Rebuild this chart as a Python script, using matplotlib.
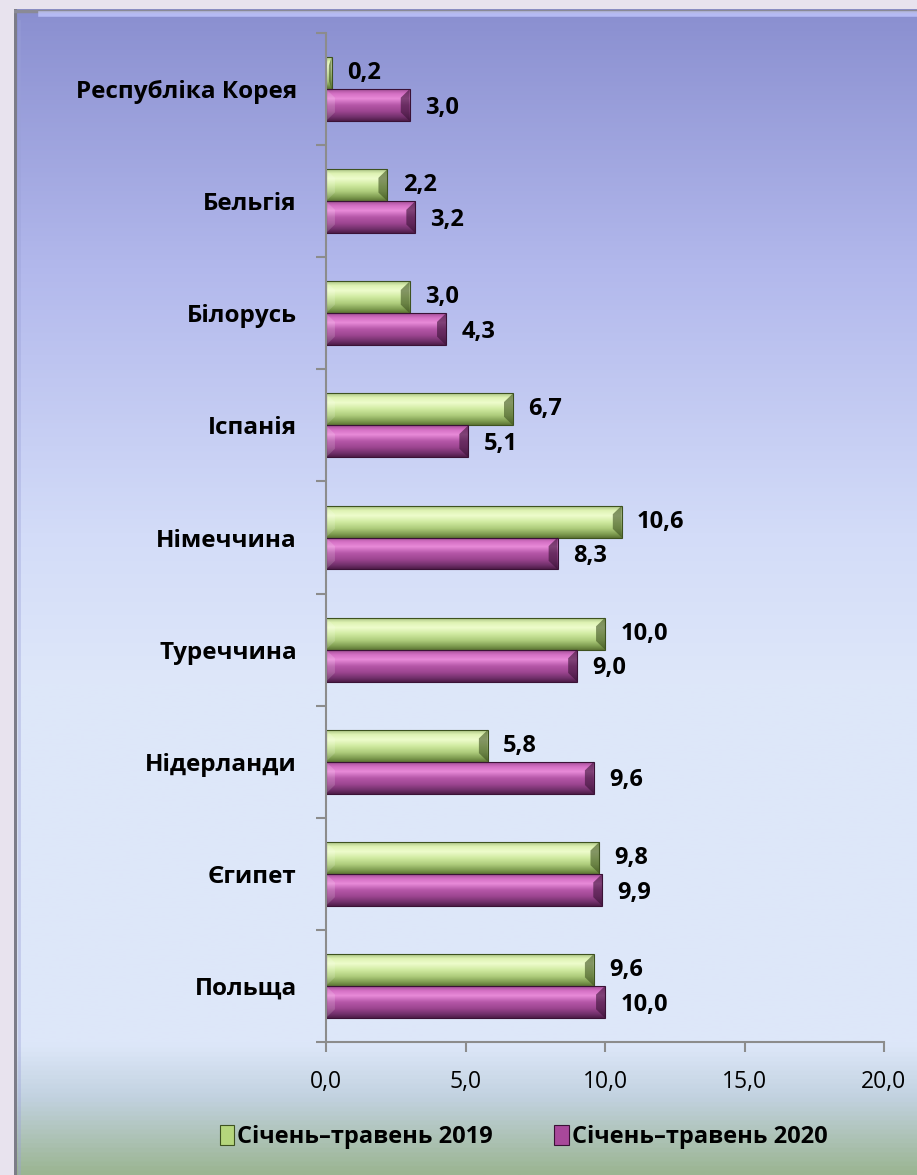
import numpy as np
import matplotlib
matplotlib.use("Agg")
import matplotlib.pyplot as plt
from matplotlib.colors import LinearSegmentedColormap
from matplotlib.patches import Polygon, Patch

plt.rcParams['font.family'] = ['Open Sans', 'DejaVu Sans']

# Дані
countries = ["Польща", "Єгипет", "Нідерланди", "Туреччина", "Німеччина",
             "Іспанія", "Білорусь", "Бельгія", "Республіка Корея"]
v2019 = [9.6, 9.8, 5.8, 10.0, 10.6, 6.7, 3.0, 2.2, 0.2]
v2020 = [10.0, 9.9, 9.6, 9.0, 8.3, 5.1, 4.3, 3.2, 3.0]
labels = ["Січень–травень 2019", "Січень–травень 2020"]
xticks = [0, 5, 10, 15, 20]

W, H = 917, 1175
fig = plt.figure(figsize=(W / 100, H / 100), dpi=100)
fig.patch.set_facecolor("#e8e3ee")

# фон з градієнтом
bg = fig.add_axes([14 / W, 0, 1 - 14 / W, 1 - 9 / H])
bg.set_axis_off()
stops = [(0.0, "#8a8fd0"), (0.22, "#b2b8ec"), (0.45, "#d3dcf8"), (0.58, "#dee7fa"),
         (0.89, "#dde7f9"), (0.935, "#c2d2e0"), (1.0, "#9bb592")]
bg_cmap = LinearSegmentedColormap.from_list("bg", stops)
grad = np.linspace(0, 1, 512).reshape(-1, 1)
bg.imshow(grad, cmap=bg_cmap, aspect="auto", extent=[0, 1, 0, 1], origin="upper")
bg.set_xlim(0, 1)
bg.set_ylim(0, 1)
# рамка
bg.plot([0.0015, 0.0015], [0, 1], color="#7c7c88", lw=3)
bg.plot([0, 1], [0.9985, 0.9985], color="#8a8a96", lw=2.5)
bg.plot([0.03, 1], [0.9955, 0.9955], color="#c4c9ff", lw=4, alpha=0.75)
bg.plot([0.006, 0.006], [0.0, 0.99], color="#9aa0d8", lw=2, alpha=0.4)

ax = fig.add_axes([326 / W, 1 - 1042 / H, (884 - 326) / W, (1042 - 33) / H])
ax.patch.set_alpha(0)

y = np.arange(len(countries))
h = 0.285
b19 = ax.barh(y + h / 2, v2019, height=h, color="#c2e08c", zorder=2)
b20 = ax.barh(y - h / 2, v2020, height=h, color="#a8489a", zorder=2)

green = LinearSegmentedColormap.from_list("g", [
    (0.0, "#5c7434"), (0.12, "#7e9c50"), (0.3, "#aecc7c"), (0.5, "#cfeaa0"),
    (0.7, "#eefccc"), (0.86, "#dff3b4"), (1.0, "#a9c283")])
purple = LinearSegmentedColormap.from_list("p", [
    (0.0, "#4e1c48"), (0.12, "#70306a"), (0.3, "#9c4590"), (0.5, "#b557a8"),
    (0.7, "#e88ad8"), (0.86, "#d36fc3"), (1.0, "#a14d96")])


def bevel(bars, cmap, dark):
    for p in bars:
        x0, y0 = p.get_x(), p.get_y()
        w, hh = p.get_width(), p.get_height()
        p.set_facecolor("none")
        p.set_edgecolor(dark)
        p.set_linewidth(0.8)
        im = ax.imshow(grad[::-1], cmap=cmap, aspect="auto",
                       extent=[x0, x0 + w, y0, y0 + hh], zorder=1.5)
        im.set_clip_path(p)
        bx = min(0.32, w / 2)
        by = hh * 0.27
        x1 = x0 + w
        ax.add_patch(Polygon([(x1 - bx, y0 + by), (x1, y0), (x1, y0 + hh), (x1 - bx, y0 + hh - by)],
                             closed=True, facecolor=dark, alpha=0.6, lw=0, zorder=1.8))
        ax.add_patch(Polygon([(x0, y0), (x0 + bx, y0 + by), (x0 + bx, y0 + hh - by), (x0, y0 + hh)],
                             closed=True, facecolor="white", alpha=0.15, lw=0, zorder=1.8))


bevel(b19, green, "#3e5220")
bevel(b20, purple, "#3a1236")

for bars, vals, dy in ((b19, v2019, 0), (b20, v2020, -2)):
    for p, v in zip(bars, vals):
        ax.annotate(f"{v:.1f}".replace(".", ","), (p.get_x() + p.get_width(), p.get_y() + p.get_height() / 2),
                    xytext=(11, dy), textcoords="offset points", va="center", ha="left",
                    fontsize=17, fontweight="bold", color="black", zorder=3)

ax.set_xlim(0, 20)
ax.set_ylim(-0.5, len(countries) - 0.5)
ax.set_xticks(xticks)
ax.set_xticklabels([f"{t:.1f}".replace(".", ",") for t in xticks], fontsize=16.5)
ax.set_yticks(y)
ax.set_yticklabels(countries, fontsize=17.5, fontweight="bold")
ax.set_yticks(np.arange(len(countries) + 1) - 0.5, minor=True)
ax.tick_params(axis="y", which="major", length=0, pad=21)
ax.tick_params(axis="y", which="minor", length=7, color="#8c8c8c", width=1.5, direction="out")
ax.tick_params(axis="x", length=7, color="#8c8c8c", width=1.5, direction="out", pad=13)
for s in ("top", "right"):
    ax.spines[s].set_visible(False)
for s in ("left", "bottom"):
    ax.spines[s].set_color("#8c8c8c")
    ax.spines[s].set_linewidth(1.5)

handles = [Patch(facecolor="#b5d67c", edgecolor="#3e5220", lw=0.8),
           Patch(facecolor="#a8489a", edgecolor="#3a1236", lw=0.8)]
leg = fig.legend(handles, labels, loc="center", bbox_to_anchor=(0.571, 1 - 1137 / H), ncol=2,
                 frameon=False, handlelength=0.6, handleheight=0.9, handletextpad=0.15,
                 columnspacing=2.6, prop={"size": 17, "weight": "bold"})

fig.savefig("out.png", dpi=100, facecolor=fig.get_facecolor())
